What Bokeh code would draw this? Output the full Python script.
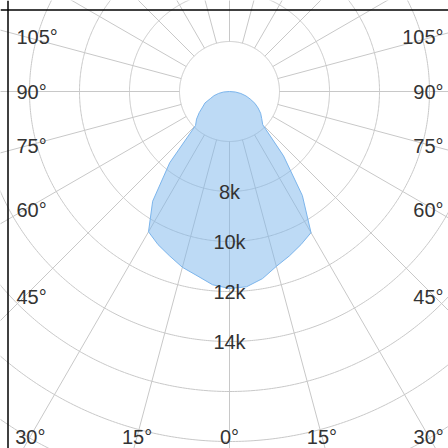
import math
from bokeh.plotting import figure
from bokeh.models import Span, Range1d
from bokeh.embed import file_html
from bokeh.resources import INLINE
from bokeh.core.properties import value

# ---- data: luminous intensity (cd) by angle from nadir (deg, negative = left side)
angles = [-90, -85, -80, -75, -70, -65, -60, -55, -50, -45, -40, -35, -30, -25, -20, -15, -10, -5,
          0, 5, 10, 15, 20, 25, 30, 35, 40, 45, 50, 55, 60, 65, 70, 75, 80, 85, 90]
intensity = [4000, 4240, 4440, 4640, 4800, 5080, 5240, 5480, 5720, 5920, 7720, 9360, 10480, 10760,
             11000, 11280, 11480, 11760, 11880, 11840, 11600, 11240, 11000, 10760, 10520, 9080,
             7360, 5880, 5680, 5520, 5320, 5120, 4880, 4680, 4460, 4240, 4000]

# radial axis
radial_min = 6000          # value at the inner hole edge
grid_values = [6000, 8000, 10000, 12000, 14000, 16000, 18000, 20000, 22000]
radial_label_values = [8000, 10000, 12000, 14000]
radial_labels = ["8k", "10k", "12k", "14k"]

# angular axis
spoke_angles = list(range(0, 360, 15))
tick_angles = [0, 15, 30, 45, 60, 75, 90, 105]
tick_labels = ["0°", "15°", "30°", "45°", "60°", "75°", "90°", "105°"]

# ---- polar scale (pixel-like data units)
HOLE = 50.0
SCALE = 0.025


def rad(v):
    return max(0.0, HOLE + (v - radial_min) * SCALE)


def xy(angle_deg, r):
    a = math.radians(angle_deg)
    return r * math.sin(a), -r * math.cos(a)


p = figure(width=448, height=448, output_backend="svg", toolbar_location=None,
           x_range=Range1d(-229, 219), y_range=Range1d(-357, 91), min_border=0)
p.axis.visible = False
p.grid.visible = False
p.outline_line_color = None
p.background_fill_color = "white"

GRID = "#c8c8c8"

# spokes
sx, sy = [], []
for a in spoke_angles:
    x0, y0 = xy(a, HOLE)
    x1, y1 = xy(a, 650)
    sx.append([x0, x1])
    sy.append([y0, y1])
p.multi_line(sx, sy, line_color=GRID, line_width=1)

# circles
cx, cy = [], []
for v in grid_values:
    r = rad(v)
    pts = [xy(t * 0.5, r) for t in range(0, 721)]
    cx.append([q[0] for q in pts])
    cy.append([q[1] for q in pts])
p.multi_line(cx, cy, line_color=GRID, line_width=1)

# series area
px, py = [], []
for a, v in zip(angles, intensity):
    x, y = xy(a, rad(v))
    px.append(x)
    py.append(y)
p.patch(px, py, fill_color="#7cb5ec", fill_alpha=0.5, line_color="#7cb5ec", line_width=1)

FONT = value("Liberation Sans")
TXT = "#333333"

# radial labels on the 0° spoke
lx, ly = [], []
for v in radial_label_values:
    x, y = xy(0, rad(v))
    lx.append(x)
    ly.append(y)
p.text(lx, ly, text=radial_labels, text_align="center", text_baseline="middle",
       text_font=FONT, text_font_size="20px", text_color=TXT)

# angular labels placed where each spoke meets the frame band
BOTTOM_Y = -345
SIDE_X = 205
LEFT_X = -213
RIGHT_X = 214
bx, by, bt = [], [], []
lxs, lys, lts = [], [], []
rxs, rys, rts = [], [], []
for a, lab in zip(tick_angles, tick_labels):
    sides = [1] if a == 0 else [-1, 1]
    for s in sides:
        dx = s * math.sin(math.radians(a))
        dy = -math.cos(math.radians(a))
        xb = None
        if dy < 0:
            t = BOTTOM_Y / dy
            xb = t * dx
        if xb is not None and abs(xb) <= SIDE_X:
            bx.append(xb)
            by.append(BOTTOM_Y)
            bt.append(lab)
        else:
            t = SIDE_X / abs(dx)
            yv = t * dy
            if s < 0:
                lxs.append(LEFT_X); lys.append(yv); lts.append(lab)
            else:
                rxs.append(RIGHT_X); rys.append(yv); rts.append(lab)

p.text(bx, by, text=bt, text_align="center", text_baseline="middle",
       text_font=FONT, text_font_size="20px", text_color=TXT)
p.text(lxs, lys, text=lts, text_align="left", text_baseline="middle",
       text_font=FONT, text_font_size="20px", text_color=TXT)
p.text(rxs, rys, text=rts, text_align="right", text_baseline="middle",
       text_font=FONT, text_font_size="20px", text_color=TXT)

# top and left frame lines
p.add_layout(Span(location=81.5, dimension="width", line_color="black", line_width=1.5))
p.add_layout(Span(location=-221.5, dimension="height", line_color="black", line_width=1.5))

open("out.html", "w").write(file_html(p, INLINE))
